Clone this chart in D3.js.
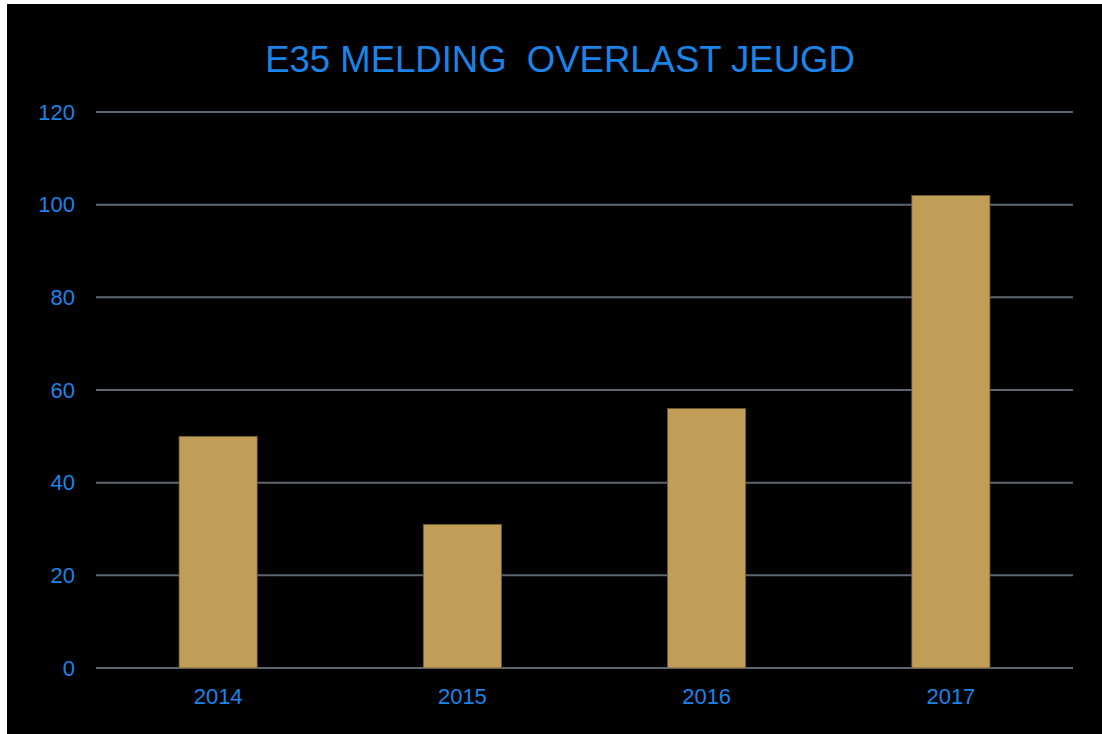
<!DOCTYPE html>
<html>
<head>
<meta charset="utf-8">
<script src="https://cdn.jsdelivr.net/npm/d3@7"></script>
<style>
  html, body { margin: 0; padding: 0; background: #fff; }
  svg { display: block; }
</style>
</head>
<body>
<div id="chart"></div>
<script>
const years = ['2014', '2015', '2016', '2017'];
const meldingen = [50, 31, 56, 102];
const yTicks = [0, 20, 40, 60, 80, 100, 120];
const title = 'E35 MELDING  OVERLAST JEUGD';

const width = 1102;
const height = 734;
const margin = { top: 112, right: 29, bottom: 66, left: 96 };

const blue = '#1a84e8';
const gridColor = '#5b6670';
const barColor = '#c09e58';

const svg = d3.select('#chart')
  .append('svg')
  .attr('width', width)
  .attr('height', height);

// black panel with thin white edge on left / top
svg.append('rect')
  .attr('x', 7)
  .attr('y', 4)
  .attr('width', width - 7)
  .attr('height', height - 4)
  .attr('fill', '#000');

const xScale = d3.scaleBand()
  .domain(years)
  .range([margin.left, width - margin.right])
  .paddingInner(0.68)
  .paddingOuter(0.34);

const yScale = d3.scaleLinear()
  .domain([0, 120])
  .range([height - margin.bottom, margin.top]);

/* gridlines */
svg.append('g')
  .selectAll('line')
  .data(yTicks)
  .enter()
  .append('line')
  .attr('x1', margin.left)
  .attr('x2', width - margin.right)
  .attr('y1', (d) => yScale(d))
  .attr('y2', (d) => yScale(d))
  .attr('stroke', gridColor)
  .attr('stroke-width', 2);

/* bars */
svg.append('g')
  .selectAll('rect')
  .data(meldingen)
  .enter()
  .append('rect')
  .attr('x', (d, i) => xScale(years[i]))
  .attr('y', (d) => yScale(d))
  .attr('width', xScale.bandwidth())
  .attr('height', (d) => yScale(0) - yScale(d))
  .attr('fill', barColor)
  .attr('stroke', '#6e5a32')
  .attr('stroke-width', 0.8);

/* y axis */
const yAxis = d3.axisLeft(yScale).tickValues(yTicks).tickSize(0).tickPadding(21);
svg.append('g')
  .attr('transform', `translate(${margin.left}, 0)`)
  .call(yAxis)
  .call((g) => g.select('.domain').remove())
  .selectAll('text')
  .attr('fill', blue)
  .style('font-family', 'Liberation Sans, Arial, sans-serif')
  .style('font-size', '22px');

/* x axis */
const xAxis = d3.axisBottom(xScale).tickSize(0).tickPadding(20);
svg.append('g')
  .attr('transform', `translate(0, ${yScale(0)})`)
  .call(xAxis)
  .call((g) => g.select('.domain').remove())
  .selectAll('text')
  .attr('fill', blue)
  .style('font-family', 'Liberation Sans, Arial, sans-serif')
  .style('font-size', '22px');

/* title */
svg.append('text')
  .attr('x', 560)
  .attr('y', 72)
  .attr('text-anchor', 'middle')
  .attr('fill', blue)
  .style('font-family', 'Liberation Sans, Arial, sans-serif')
  .style('font-size', '36.5px')
  .style('white-space', 'pre')
  .text(title);
</script>
</body>
</html>
